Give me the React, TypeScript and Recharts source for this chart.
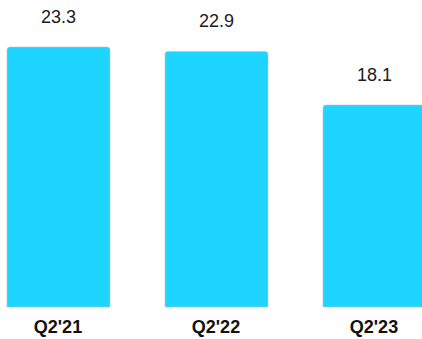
import { BarChart, Bar, XAxis, YAxis, LabelList } from 'recharts';

const quarters = ["Q2'21", "Q2'22", "Q2'23"];
const values = [23.3, 22.9, 18.1];

const data = quarters.map((name, i) => ({ name, value: values[i] }));

const FONT = '"Liberation Sans", Arial, sans-serif';

const QuarterTick = (props: any) => {
  const { x, y, payload } = props;
  return (
    <text
      x={x}
      y={y + 18}
      textAnchor="middle"
      fontFamily={FONT}
      fontSize={18}
      fontWeight="bold"
      fill="#111"
    >
      {payload.value}
    </text>
  );
};

const ValueLabel = (props: any) => {
  const { x, y, width, value } = props;
  return (
    <text
      x={x + width / 2}
      y={y - 24}
      textAnchor="middle"
      fontFamily={FONT}
      fontSize={18}
      fill="#1a1a1a"
      stroke="#fff"
      strokeWidth={3}
      paintOrder="stroke"
    >
      {value.toFixed(1)}
    </text>
  );
};

export default function App() {
  return (
    <div style={{ position: 'absolute', left: -21, top: 0 }}>
      <BarChart
        width={474}
        height={339}
        data={data}
        margin={{ top: 47, right: 0, left: 0, bottom: 0 }}
      >
        <XAxis
          dataKey="name"
          axisLine={false}
          tickLine={false}
          height={32}
          interval={0}
          tick={<QuarterTick />}
        />
        <YAxis hide domain={[0, 'dataMax']} />
        <Bar
          dataKey="value"
          fill="#1dd5fe"
          stroke="#b9c4c8"
          strokeWidth={0.6}
          barSize={103}
          radius={[3, 3, 0, 0]}
          isAnimationActive={false}
        >
          <LabelList dataKey="value" content={<ValueLabel />} />
        </Bar>
      </BarChart>
    </div>
  );
}
